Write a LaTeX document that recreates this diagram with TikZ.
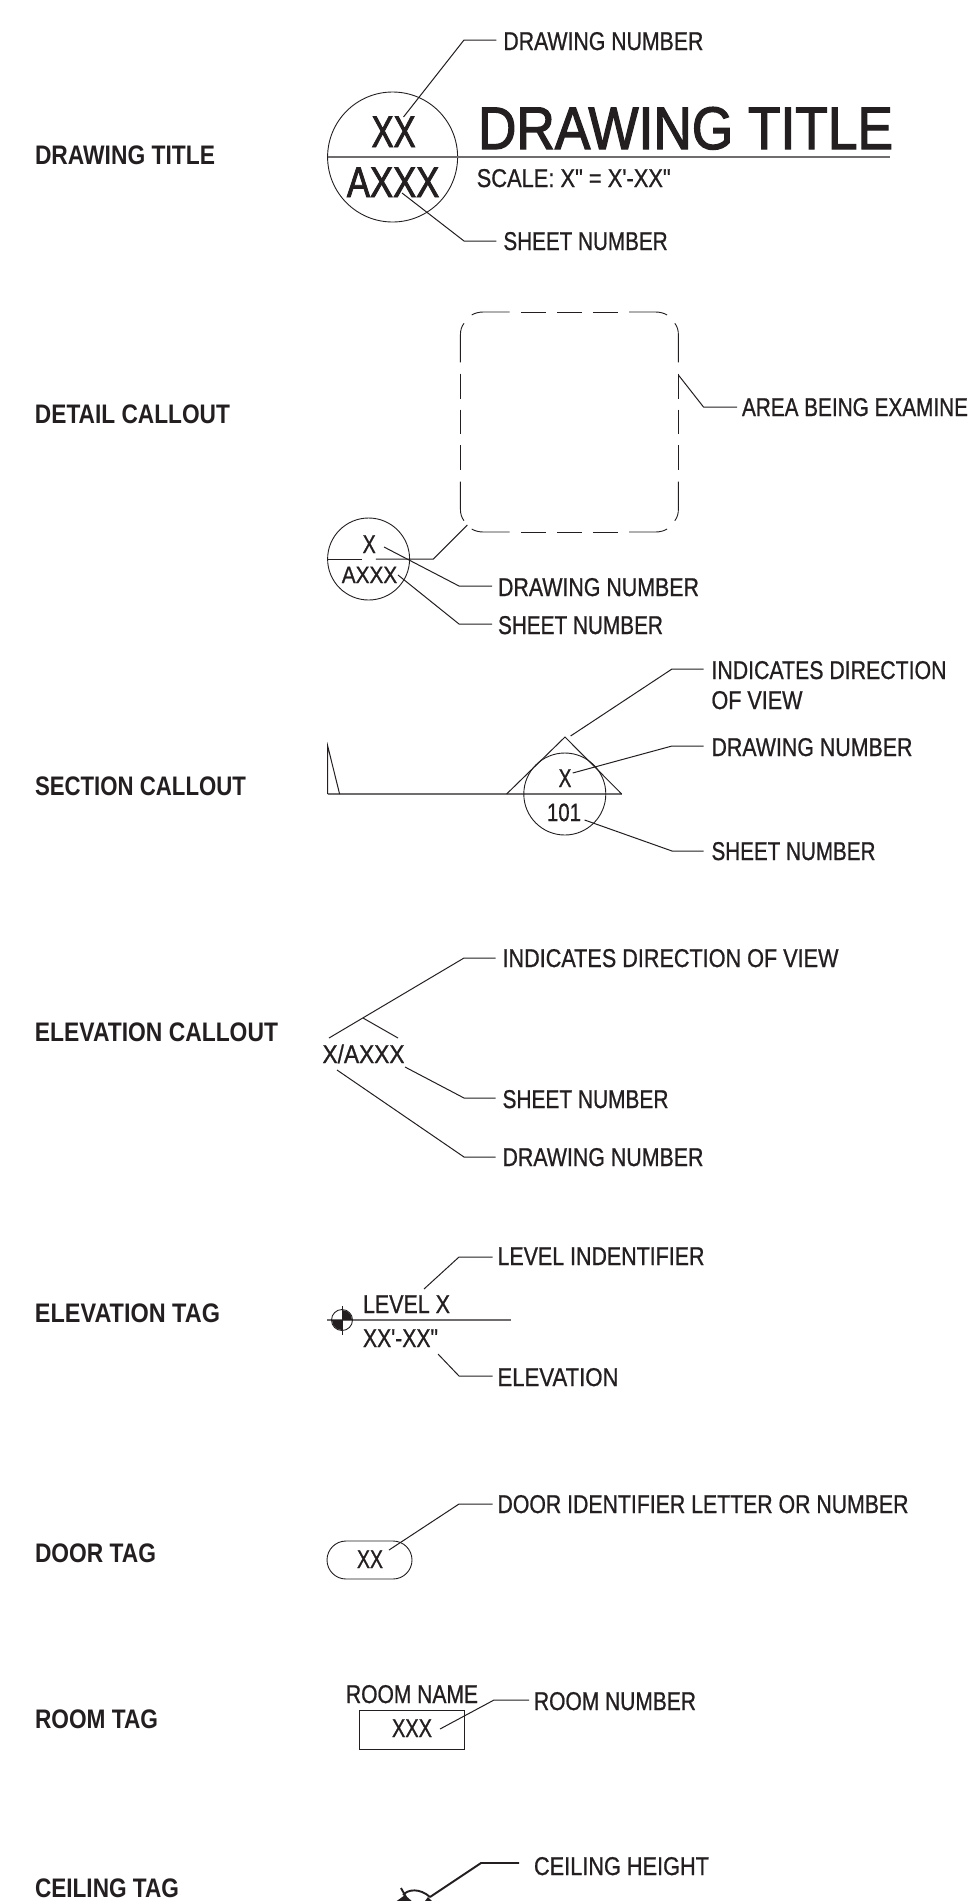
\documentclass[tikz,border=0pt]{standalone}
\usepackage{graphicx}
\usepackage{fontspec}
\usetikzlibrary{shapes.geometric,calc}
\setmainfont[Ligatures=TeXOff,UprightFeatures={FakeBold=0.9}]{Liberation Sans}
\newfontfamily\bigf[Ligatures=TeXOff,UprightFeatures={FakeBold=2.2}]{Liberation Sans}
\definecolor{ink}{HTML}{231F20}
\tikzset{
  lbl/.style={inner sep=0pt,outer sep=0pt,anchor=base west,text=ink},
  lead/.style={draw=ink,line width=0.5pt},
  heavy/.style={draw=ink,line width=0.95pt},
  rule/.style={draw=ink!65,line width=0.55pt},
  ring/.style={ellipse,draw=ink,line width=0.45pt,inner sep=0pt,outer sep=0pt},
  dashpiece/.style={draw=ink,line width=0.45pt}
}
% \lab[cap height]{name}{x}{baseline y}{width}{text}
\newcommand{\lab}[6][18]{\node[lbl] (#2) at (#3,#4) {\resizebox{\dimexpr#5pt/2\relax}{\height}{\fontsize{\fpeval{round(#1/2/0.70,2)}pt}{20pt}\selectfont #6}};}
\newcommand{\labb}[5]{\node[lbl] (#1) at (#2,#3) {\resizebox{\dimexpr#4pt/2\relax}{\height}{\fontsize{13.4pt}{20pt}\selectfont\bfseries #5}};}
% \leader[gap]{start}{knee}{label}
\newcommand{\leader}[4][3.5pt]{\coordinate (#4s) at (#2);\coordinate (#4k) at (#3);\draw[lead] (#4s) -- (#4k) -- ([xshift=-#1]#4k -| #4.west);}
\begin{document}
\begin{tikzpicture}[x=0.5pt,y=-0.5pt]
\useasboundingbox (0,0) rectangle (968,1901);
\clip (0,0) rectangle (968,1901);
% left column
\labb{t1}{35}{164}{180}{DRAWING TITLE}
\labb{t2}{35}{423}{195}{DETAIL CALLOUT}
\labb{t3}{35}{795}{211}{SECTION CALLOUT}
\labb{t4}{35}{1041}{243}{ELEVATION CALLOUT}
\labb{t5}{35}{1322}{185}{ELEVATION TAG}
\labb{t6}{35}{1562}{121}{DOOR TAG}
\labb{t7}{35}{1728}{123}{ROOM TAG}
\labb{t8}{35}{1897}{144}{CEILING TAG}
% drawing title
\node[ring,minimum width=65pt,minimum height=65pt] (dtc) at (392.6,157) {};
\coordinate (dtr) at (890,157);
\draw[rule] (dtc.west) -- (dtr);
\lab[31]{dtxx}{371.6}{147}{44}{\bigf XX}
\lab[30]{dtax}{346.9}{197}{92.4}{\bigf AXXX}
\lab[42]{dttt}{478}{149}{415}{\bigf DRAWING TITLE}
\lab{dtsc}{476.7}{187}{194}{SCALE: X" = X'-XX"}
\lab{dtdn}{503.4}{50}{200}{DRAWING NUMBER}
\lab{dtsn}{503.4}{250}{164.3}{SHEET NUMBER}
\leader{403.5,117}{464,40}{dtdn}
\leader{402,193}{464,241}{dtsn}
% detail callout
\begin{scope}[shift={(569.4,422)}]
\foreach \sx/\sy in {1/1,-1/1,1/-1,-1/-1}{
  \begin{scope}[xscale=\sx,yscale=\sy]
    \draw[dashpiece] (-109,-59.7) -- (-109,-87) .. controls (-109,-92) and (-107.8,-95.5) .. (-105.4,-98.7);
    \draw[dashpiece] (-97.7,-107) .. controls (-94.4,-109) and (-90.4,-110) .. (-86,-110) -- (-59.7,-110);
  \end{scope}
}
\foreach \a/\b in {-48.4/-23.4,-12.4/12.4,23.4/48.4}{
  \draw[dashpiece] (\a,-110) -- (\b,-110);
  \draw[dashpiece] (\a,110) -- (\b,110);
  \draw[dashpiece] (-109,\a) -- (-109,\b);
  \draw[dashpiece] (109,\a) -- (109,\b);
}
\end{scope}
\lab{dcar}{742}{416}{226}{AREA BEING EXAMINE}
\leader[2.5pt]{678.4,375}{703.5,407}{dcar}
\node[ring,minimum width=41pt,minimum height=41pt] (dcc) at (368.6,559) {};
\coordinate (dcg1) at (361.8,559);
\coordinate (dcg2) at (375.8,559);
\coordinate (dck) at (433.4,559);
\coordinate (dcb) at (467.3,525);
\draw[lead] (dcc.west) -- (dcg1);
\draw[lead] (dcg2) -- (dck) -- (dcb);
\lab{dcx}{362.6}{553}{13.2}{X}
\lab[16.5]{dcax}{341.8}{583}{55.4}{AXXX}
\lab{dcdn}{498}{596}{201}{DRAWING NUMBER}
\lab{dcsn}{498}{634}{165}{SHEET NUMBER}
\leader[3pt]{384,547}{459,586}{dcdn}
\leader[3pt]{398,575}{459,624}{dcsn}
% section callout
\coordinate (sa) at (327.7,794);
\coordinate (sb) at (327.7,746);
\coordinate (sc) at (339.6,794);
\coordinate (sd) at (506.6,794);
\coordinate (se) at (565,737);
\coordinate (sf) at (621.7,794);
\draw[rule] (sa) -- (sf);
\draw[lead] (sa) -- (sb) -- (sc);
\draw[lead] (sd) -- (se) -- (sf);
\node[ring,minimum width=41pt,minimum height=41pt] (scc) at (564.8,794) {};
\lab{scx}{558.6}{787}{12.8}{X}
\lab[17.5]{scn}{547}{821}{34}{101}
\lab{scin}{711.5}{679}{235}{INDICATES DIRECTION}
\lab{scof}{711.5}{709}{91}{OF VIEW}
\lab{scdn}{711.5}{756}{201}{DRAWING NUMBER}
\lab{scsn}{711.5}{860}{164}{SHEET NUMBER}
\leader[4pt]{570.6,736}{672,669}{scin}
\leader[4pt]{572.7,773}{672,746}{scdn}
\leader[4pt]{584.6,820}{672,851}{scsn}
% elevation callout
\lab{ecax}{322.5}{1063}{82}{X/AXXX}
\lab{ecin}{502.5}{967}{336}{INDICATES DIRECTION OF VIEW}
\lab{ecsn}{502.5}{1108}{166}{SHEET NUMBER}
\lab{ecdn}{502.5}{1166}{201}{DRAWING NUMBER}
\leader{329,1038}{464,958}{ecin}
\coordinate (eca) at (363,1018);
\coordinate (ecb) at (398,1038);
\draw[lead] (eca) -- (ecb);
\leader{405,1067}{464,1098}{ecsn}
\leader{337,1070}{464,1157}{ecdn}
% elevation tag
\lab{etlv}{363}{1313}{87}{LEVEL X}
\lab{etel}{363}{1347}{75}{XX'-XX"}
\lab{etid}{497.5}{1265}{207}{LEVEL INDENTIFIER}
\lab{etev}{497.5}{1386}{121}{ELEVATION}
\leader[2.5pt]{424,1289}{459,1257}{etid}
\leader[2.5pt]{438,1354}{459,1376}{etev}
\coordinate (etl) at (327,1320);
\coordinate (etr) at (511,1320);
\coordinate (ett) at (342,1306);
\coordinate (etb) at (342,1335);
\draw[rule] (etl) -- (etr);
\draw[lead] (ett) -- (etb);
\fill[ink] (342,1320) -- (352,1320) arc[start angle=0,end angle=90,radius=5pt] -- cycle;
\fill[ink] (342,1320) -- (332,1320) arc[start angle=180,end angle=270,radius=5pt] -- cycle;
\node[circle,draw=ink,line width=0.45pt,minimum size=10.5pt,inner sep=0pt] (ets) at (342,1320) {};
% door tag
\node[rectangle,draw=ink,line width=0.45pt,rounded corners=9.5pt,minimum width=42.5pt,minimum height=19pt,inner sep=0pt] (dtg) at (369.5,1560) {};
\lab{dgx}{357}{1568}{26}{XX}
\lab{dgid}{497.5}{1513}{411}{DOOR IDENTIFIER LETTER OR NUMBER}
\leader[2.5pt]{389,1550}{459,1504}{dgid}
% room tag
\node[rectangle,draw=ink,line width=0.45pt,minimum width=52.5pt,minimum height=19.5pt,inner sep=0pt] (rtb) at (411.5,1729.5) {};
\lab{rtnm}{346}{1703}{132}{ROOM NAME}
\lab{rtxx}{392}{1737}{40}{XXX}
\lab{rtnu}{534}{1710}{162}{ROOM NUMBER}
\leader[2.5pt]{440,1729}{494,1700}{rtnu}
% ceiling tag
\lab{cgh}{534}{1875}{175}{CEILING HEIGHT}
\coordinate (cgs) at (430,1897);
\coordinate (cgk) at (481,1863);
\draw[heavy] (cgs) -- (cgk) -- ([xshift=-7.5pt]cgk -| cgh.west);
\coordinate (cga) at (403,1895);
\draw[heavy] (cga) .. controls (408,1889) and (420,1888) .. (cgs);
\coordinate (cgt) at (401,1888);
\coordinate (cgu) at (406,1897);
\draw[heavy] (cgt) -- (cgu);
\fill[ink] (405,1895) -- (396.7,1901) -- (411.7,1901) -- cycle;
\fill[ink] (425,1901) -- (428,1897) -- (432,1901) -- cycle;
\end{tikzpicture}
\end{document}
